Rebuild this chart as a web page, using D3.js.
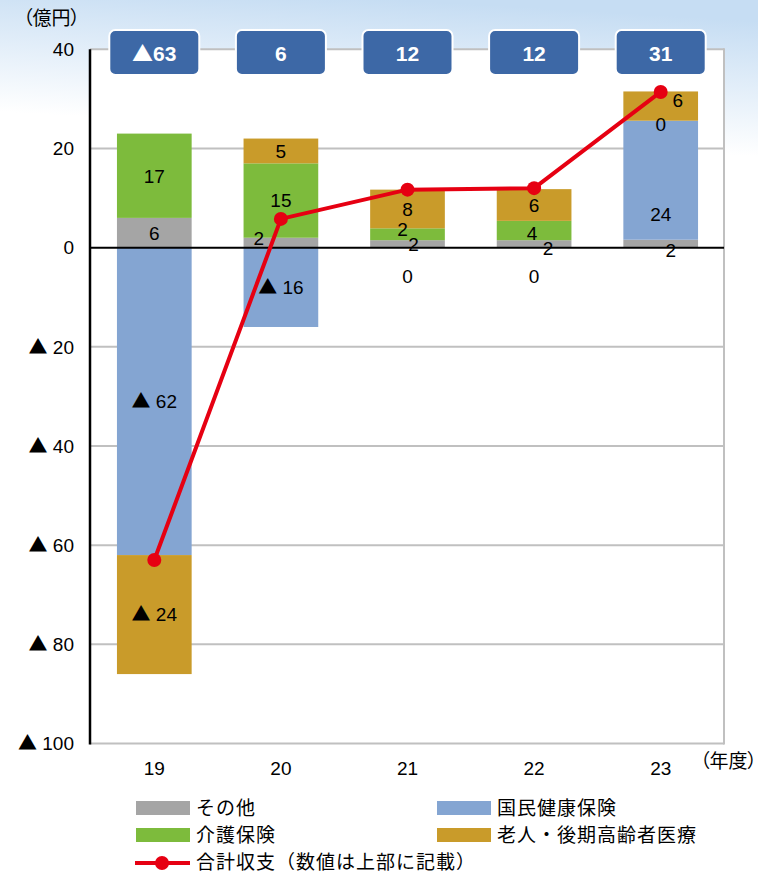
<!DOCTYPE html>
<html><head><meta charset="utf-8">
<script src="https://cdn.jsdelivr.net/npm/d3@7"></script>
<style>
html,body{margin:0;padding:0;background:#fff;}
svg{display:block;}
.palt{font-feature-settings:"palt";}
</style></head>
<body>
<script>
// ---------- data ----------
const years = ["19", "20", "21", "22", "23"];
const seriesNames = ["その他", "国民健康保険", "介護保険", "老人・後期高齢者医療"];
const sonota   = [6, 2, 1.5, 1.5, 1.6];
const kokuho   = [-62, -16, 0, 0, 24];
const kaigo    = [17, 15, 2.4, 3.9, 0];
const rojin    = [-24, 5, 7.8, 6.4, 5.9];
const totals   = [-63, 5.8, 11.7, 12.0, 31.4];
const yTicks   = [40, 20, 0, -20, -40, -60, -80, -100];
const lineName = "合計収支（数値は上部に記載）";

// ---------- layout / style ----------
const W = 758, H = 875;
const colors = ["#a5a5a5", "#84a5d2", "#7dbb3c", "#c99b2a"];
const lineColor = "#e60012";
// label nudges (px) per series per year: [dx, dy]
const nudges = [
  [[0,0],[-22,-5],[6,0],[14,4],[10,6]],
  [[0,0],[0,0],[0,36],[0,36],[0,34]],
  [[0,0],[0,0],[-5,-5],[-2,3],[0,3]],
  [[0,0],[0,0],[0,0],[0,0],[17,-6]]
];

const svg = d3.select("body").append("svg").attr("width", W).attr("height", H);
const defs = svg.append("defs");
const grad = defs.append("linearGradient").attr("id", "bg")
  .attr("gradientUnits", "userSpaceOnUse")
  .attr("x1", 400).attr("y1", 0).attr("x2", 392).attr("y2", 135);
grad.append("stop").attr("offset", 0).attr("stop-color", "#c6ddf3");
grad.append("stop").attr("offset", 1).attr("stop-color", "#ffffff");
svg.append("rect").attr("width", W).attr("height", H).attr("fill", "#fff");
svg.append("rect").attr("width", W).attr("height", 220).attr("fill", "url(#bg)");

const plot = {left: 90, right: 724, top: 49.3, bottom: 743.5};
const x = d3.scaleBand().domain(years).range([plot.left + 1, plot.right]).paddingInner(0.41).paddingOuter(0.205);
const y = d3.scaleLinear().domain([-100, 40]).range([plot.bottom, plot.top]);

svg.append("rect").attr("x", plot.left).attr("y", plot.top)
  .attr("width", plot.right - plot.left).attr("height", plot.bottom - plot.top).attr("fill", "#fff");

// gridlines
svg.append("g").selectAll("line").data(yTicks.filter(d => d !== 0)).join("line")
  .attr("x1", plot.left).attr("x2", plot.right)
  .attr("y1", d => y(d)).attr("y2", d => y(d))
  .attr("stroke", "#c0c0c0").attr("stroke-width", 2);
svg.append("line").attr("x1", plot.right).attr("x2", plot.right)
  .attr("y1", plot.top - 1).attr("y2", plot.bottom + 1).attr("stroke", "#c0c0c0").attr("stroke-width", 2);

// stacked bars
const table = years.map((yr, i) => ({year: yr, 0: sonota[i], 1: kokuho[i], 2: kaigo[i], 3: rojin[i]}));
const stack = d3.stack().keys([0, 1, 2, 3]).offset(d3.stackOffsetDiverging);
const stacked = stack(table);
// zero-valued segments sit on top of the positive stack beneath them
years.forEach((yr, i) => {
  let pos = 0;
  stacked.forEach(s => {
    const d = s[i];
    if (d[1] - d[0] === 0 && table[i][s.key] === 0) { d[0] = pos; d[1] = pos; }
    else if (d[1] > 0 && d[0] >= 0) pos = d[1];
  });
});

const gBars = svg.append("g");
stacked.forEach((s, si) => {
  gBars.selectAll(null).data(s).join("rect")
    .attr("x", d => x(d.data.year))
    .attr("width", x.bandwidth())
    .attr("y", d => y(Math.max(d[0], d[1])))
    .attr("height", d => Math.abs(y(d[0]) - y(d[1])))
    .attr("fill", colors[si]);
});

// axes lines
svg.append("line").attr("x1", plot.left).attr("x2", plot.right)
  .attr("y1", y(0)).attr("y2", y(0)).attr("stroke", "#000").attr("stroke-width", 2);
svg.append("line").attr("x1", plot.left).attr("x2", plot.left)
  .attr("y1", plot.top).attr("y2", plot.bottom + 1).attr("stroke", "#000").attr("stroke-width", 2.5);

const numFont = "'Liberation Sans', Arial, sans-serif";
const jpFont = "'Noto Sans CJK JP', sans-serif";

// writes a number; negative values get a ▲ prefix (drawn in the CJK font)
function writeNum(sel, v, sep) {
  const r = Math.round(v);
  sel.text(null);
  if (r < 0) {
    sel.append("tspan").attr("font-family", jpFont).text("▲");
    sel.append("tspan").text(sep + (-r));
  } else sel.append("tspan").text(String(r));
}

// y tick labels
svg.append("g").selectAll("text").data(yTicks).join("text")
  .attr("x", 74).attr("y", d => y(d)).attr("dy", "0.36em")
  .attr("text-anchor", "end").attr("font-family", numFont).attr("font-size", 19)
  .attr("fill", "#000").each(function(d) { writeNum(d3.select(this), d, " "); });

// x tick labels
svg.append("g").selectAll("text").data(years).join("text")
  .attr("x", d => x(d) + x.bandwidth() / 2).attr("y", 768).attr("dy", "0.36em")
  .attr("text-anchor", "middle").attr("font-family", numFont).attr("font-size", 19)
  .attr("fill", "#000").text(d => d);

svg.append("text").attr("class", "palt").attr("x", 23).attr("y", 18).attr("dy", "0.35em").attr("text-anchor", "start")
  .attr("font-family", jpFont).attr("font-size", 19).text("（億円）");
svg.append("text").attr("class", "palt").attr("x", 757).attr("y", 761).attr("dy", "0.35em").attr("text-anchor", "end")
  .attr("font-family", jpFont).attr("font-size", 19).text("（年度）");

// total line
const line = d3.line().x((d, i) => x(years[i]) + x.bandwidth() / 2).y(d => y(d));
svg.append("path").datum(totals).attr("d", line).attr("fill", "none")
  .attr("stroke", lineColor).attr("stroke-width", 4).attr("stroke-linejoin", "round");
svg.append("g").selectAll("circle").data(totals).join("circle")
  .attr("cx", (d, i) => x(years[i]) + x.bandwidth() / 2).attr("cy", d => y(d))
  .attr("r", 7).attr("fill", lineColor);

// segment labels
const gLab = svg.append("g");
stacked.forEach((s, si) => {
  gLab.selectAll(null).data(s).join("text")
    .attr("x", (d, i) => x(d.data.year) + x.bandwidth() / 2 + nudges[si][i][0])
    .attr("y", (d, i) => y((d[0] + d[1]) / 2) + nudges[si][i][1])
    .attr("dy", "0.36em").attr("text-anchor", "middle")
    .attr("font-family", numFont).attr("font-size", 19).attr("fill", "#000")
    .each(function(d, i) { writeNum(d3.select(this), table[i][si], " "); });
});

// total boxes
const gBox = svg.append("g");
gBox.selectAll("rect").data(totals).join("rect")
  .attr("x", (d, i) => x(years[i]) + x.bandwidth() / 2 - 45).attr("y", 30)
  .attr("width", 90).attr("height", 45).attr("rx", 6)
  .attr("fill", "#3d68a6").attr("stroke", "#fff").attr("stroke-width", 2);
gBox.selectAll("text").data(totals).join("text")
  .attr("x", (d, i) => x(years[i]) + x.bandwidth() / 2).attr("y", 53).attr("dy", "0.36em")
  .attr("text-anchor", "middle").attr("font-family", numFont).attr("font-weight", "bold")
  .attr("font-size", 21).attr("fill", "#fff")
  .each(function(d) { writeNum(d3.select(this), d, ""); });

// legend
const legItems = [
  {name: seriesNames[0], c: colors[0], x: 136, y: 808},
  {name: seriesNames[1], c: colors[1], x: 437, y: 808},
  {name: seriesNames[2], c: colors[2], x: 136, y: 835},
  {name: seriesNames[3], c: colors[3], x: 437, y: 835}
];
const gLeg = svg.append("g");
legItems.forEach(it => {
  gLeg.append("rect").attr("x", it.x).attr("y", it.y - 7).attr("width", 54).attr("height", 14).attr("fill", it.c);
  gLeg.append("text").attr("x", it.x + 60).attr("y", it.y).attr("dy", "0.35em")
    .attr("font-family", jpFont).attr("font-size", 19).attr("letter-spacing", 1)
    .attr("fill", "#000").text(it.name);
});
gLeg.append("line").attr("x1", 135).attr("x2", 190).attr("y1", 863).attr("y2", 863)
  .attr("stroke", lineColor).attr("stroke-width", 4);
gLeg.append("circle").attr("cx", 162).attr("cy", 863).attr("r", 7).attr("fill", lineColor);
gLeg.append("text").attr("x", 196).attr("y", 862).attr("dy", "0.35em")
  .attr("font-family", jpFont).attr("font-size", 19).attr("letter-spacing", 1)
  .attr("fill", "#000").text(lineName);
</script>
</body></html>
